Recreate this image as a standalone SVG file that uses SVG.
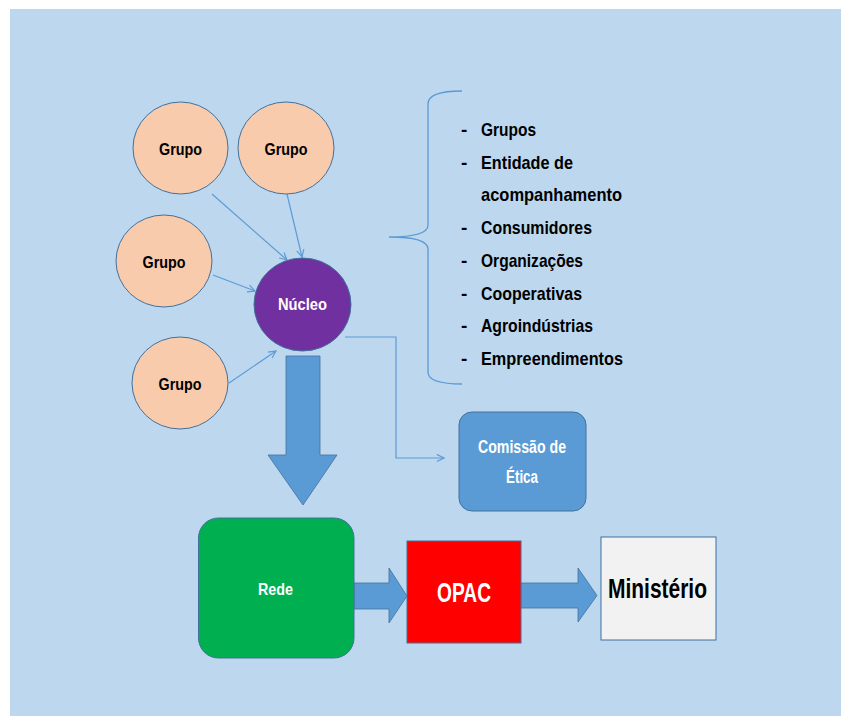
<svg xmlns="http://www.w3.org/2000/svg" width="841" height="716" viewBox="0 0 841 716">
<style>
.t{font-family:"Liberation Sans","Arial",sans-serif;font-weight:bold}
.g{fill:#F8CBAD;stroke:#41719C;stroke-width:1}
.c{fill:none;stroke:#5B9BD5;stroke-width:1.2}
.blk{fill:#000}
.wht{fill:#fff}
.big{fill:#5B9BD5;stroke:#41719C;stroke-width:0.8}
</style>
<defs>
<marker id="ah" viewBox="0 0 10 10" refX="9" refY="5" markerWidth="9" markerHeight="9" markerUnits="userSpaceOnUse" orient="auto">
<path d="M1,1 L9,5 L1,9" fill="none" stroke="#5B9BD5" stroke-width="1.3"/>
</marker>
</defs>
<rect x="0" y="0" width="841" height="716" fill="#fff"/>
<rect x="10" y="9" width="831" height="707" fill="#BDD7EE"/>

<g id="connectors">
<path class="c" d="M212,194 L287,260" marker-end="url(#ah)"/>
<path class="c" d="M287,194 L302,257" marker-end="url(#ah)"/>
<path class="c" d="M213,275 L255,291" marker-end="url(#ah)"/>
<path class="c" d="M229,383 L276,351" marker-end="url(#ah)"/>
<path class="c" d="M345,337 H396 V458 H444" marker-end="url(#ah)"/>
<path class="big" d="M286,356 H320 V455 H337 L303,505 L268,455 H286 Z"/>
<path class="big" d="M354,583 H389 V568 L407,596 L389,623 V609 H354 Z"/>
<path class="big" d="M521,583 H578 V568 L597,595.5 L578,622 V608 H521 Z"/>
<path d="M462,91 C440,91 428,95 428,104 L428,225 C428,233 414,237 389,237 C414,237 428,241 428,249 L428,372 C428,380 440,384 462,384" fill="none" stroke="#5B9BD5" stroke-width="1.3"/>
</g>

<g id="grupo1">
<ellipse class="g" cx="180.5" cy="148" rx="47.5" ry="46"/>
<text class="t blk" x="180.5" y="155" font-size="17" text-anchor="middle" textLength="43" lengthAdjust="spacingAndGlyphs">Grupo</text>
</g>
<g id="grupo2">
<ellipse class="g" cx="286" cy="148" rx="48" ry="46"/>
<text class="t blk" x="286" y="155" font-size="17" text-anchor="middle" textLength="43" lengthAdjust="spacingAndGlyphs">Grupo</text>
</g>
<g id="grupo3">
<ellipse class="g" cx="164" cy="261" rx="48" ry="46"/>
<text class="t blk" x="164" y="268" font-size="17" text-anchor="middle" textLength="43" lengthAdjust="spacingAndGlyphs">Grupo</text>
</g>
<g id="grupo4">
<ellipse class="g" cx="180" cy="383" rx="48" ry="46"/>
<text class="t blk" x="180" y="390" font-size="17" text-anchor="middle" textLength="43" lengthAdjust="spacingAndGlyphs">Grupo</text>
</g>
<g id="nucleo">
<ellipse cx="302.5" cy="304.5" rx="48.5" ry="46.5" fill="#7030A0" stroke="#41719C" stroke-width="1"/>
<text class="t wht" x="302.5" y="310" font-size="17" text-anchor="middle" textLength="49" lengthAdjust="spacingAndGlyphs">Núcleo</text>
</g>

<g id="lista">
<g class="t blk" font-size="19">
<text x="461" y="136">-</text>
<text x="461" y="168.7">-</text>
<text x="461" y="234.1">-</text>
<text x="461" y="266.8">-</text>
<text x="461" y="299.5">-</text>
<text x="461" y="332.2">-</text>
<text x="461" y="365">-</text>
<text x="481" y="136" textLength="55" lengthAdjust="spacingAndGlyphs">Grupos</text>
<text x="481" y="168.7" textLength="92" lengthAdjust="spacingAndGlyphs">Entidade de</text>
<text x="481" y="201.4" textLength="141" lengthAdjust="spacingAndGlyphs">acompanhamento</text>
<text x="481" y="234.1" textLength="111" lengthAdjust="spacingAndGlyphs">Consumidores</text>
<text x="481" y="266.8" textLength="102" lengthAdjust="spacingAndGlyphs">Organizações</text>
<text x="481" y="299.5" textLength="101" lengthAdjust="spacingAndGlyphs">Cooperativas</text>
<text x="481" y="332.2" textLength="112" lengthAdjust="spacingAndGlyphs">Agroindústrias</text>
<text x="481" y="365" textLength="142" lengthAdjust="spacingAndGlyphs">Empreendimentos</text>
</g>
</g>

<g id="comissao">
<rect x="459" y="412" width="127" height="99" rx="13" fill="#5B9BD5" stroke="#41719C" stroke-width="1"/>
<text class="t wht" x="522" y="453" font-size="18" text-anchor="middle" textLength="88" lengthAdjust="spacingAndGlyphs">Comissão de</text>
<text class="t wht" x="522" y="483" font-size="18" text-anchor="middle" textLength="32" lengthAdjust="spacingAndGlyphs">Ética</text>
</g>

<g id="rede">
<rect x="198.5" y="518" width="155.5" height="140" rx="20" fill="#00B050" stroke="#41719C" stroke-width="1"/>
<text class="t wht" x="275.5" y="595" font-size="17" text-anchor="middle" textLength="35" lengthAdjust="spacingAndGlyphs">Rede</text>
</g>

<g id="opac">
<rect x="407" y="541" width="114" height="102" fill="#FF0000" stroke="#41719C" stroke-width="1"/>
<text class="t wht" x="464" y="602" font-size="27" font-weight="normal" text-anchor="middle" textLength="54" lengthAdjust="spacingAndGlyphs">OPAC</text>
</g>

<g id="ministerio">
<rect x="601" y="537" width="115" height="103" fill="#F2F2F2" stroke="#41719C" stroke-width="1"/>
<text class="t blk" x="657.5" y="598" font-size="28" font-weight="normal" text-anchor="middle" textLength="99" lengthAdjust="spacingAndGlyphs">Ministério</text>
</g>
</svg>
